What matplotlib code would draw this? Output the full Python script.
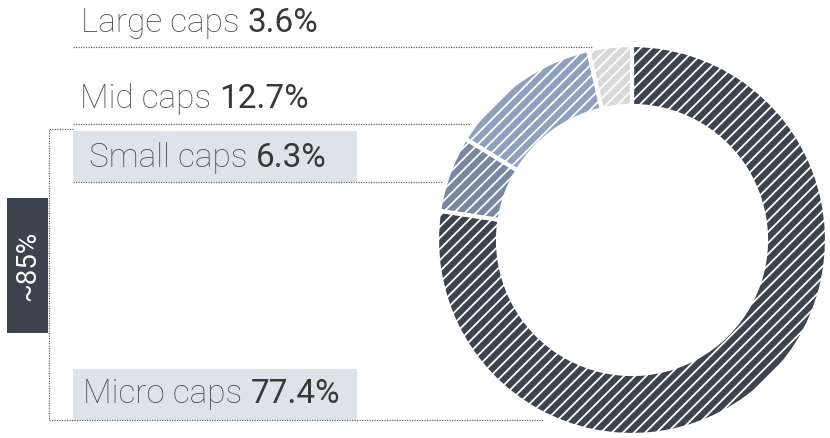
import matplotlib.pyplot as plt

# segment data, clockwise from 12 o'clock
segments = ['Micro caps', 'Small caps', 'Mid caps', 'Large caps']
shares = [77.4, 6.3, 12.7, 3.6]
colors = ['#3d4450', '#7887a2', '#8fa0bf', '#d8d8d8']
bracket_label = '~85%'

W, H = 830, 438
plt.rcParams['font.family'] = ['Roboto', 'DejaVu Sans']
plt.rcParams['hatch.linewidth'] = 1.3

fig = plt.figure(figsize=(W / 100, H / 100), dpi=100)
ax = fig.add_axes([0, 0, 1, 1])


def Y(py):
    # pixel row from top -> data y
    return H - py


# donut
R = 195
wedges, _ = ax.pie(shares, colors=colors, startangle=90, counterclock=False,
                   radius=R, center=(632, Y(240)), frame=True,
                   wedgeprops=dict(width=61, edgecolor='white', linewidth=3,
                                   hatch='///'))
ax.set_xlim(0, W)
ax.set_ylim(0, H)
ax.axis('off')

# label rows: (text x, baseline row, line start, line end, line row, box)
rows = {
    'Large caps': (81, 32, 73, 592, 47, False),
    'Mid caps': (80, 108, 73, 470, 124, False),
    'Small caps': (89, 167, 73, 442, 182, True),
    'Micro caps': (83, 403, 49, 543, 420, True),
}

fig.canvas.draw()
renderer = fig.canvas.get_renderer()
for name, share in zip(segments, shares):
    tx, ty, lx0, lx1, ly, boxed = rows[name]
    if boxed:
        ax.add_patch(plt.Rectangle((73, Y(ly)), 284, 51, color='#dee2eb',
                                   zorder=1, lw=0))
    t = ax.text(tx, Y(ty), name + ' ', fontsize=24, fontweight='light',
                color='#505050', va='baseline', ha='left', zorder=3)
    bb = t.get_window_extent(renderer)
    ax.text(bb.x1, Y(ty), f'{share:.1f}%', fontsize=24, color='#383838',
            va='baseline', ha='left', zorder=3)
    ax.plot([lx0, lx1], [Y(ly), Y(ly)], ls=(0, (1, 1)), lw=0.9,
            color='#666666', zorder=2)

# bracket on the left
ax.plot([73, 49, 49], [Y(129), Y(129), Y(420)], ls=(0, (1, 1)), lw=0.9,
        color='#666666', zorder=2)
ax.add_patch(plt.Rectangle((7, Y(333)), 41, 135, color='#3d4350', lw=0,
                           zorder=3))
ax.text(28, Y(265.5), bracket_label, rotation=90, fontsize=20,
        color='white', ha='center', va='center', zorder=4)

fig.savefig('out.png', dpi=100)
